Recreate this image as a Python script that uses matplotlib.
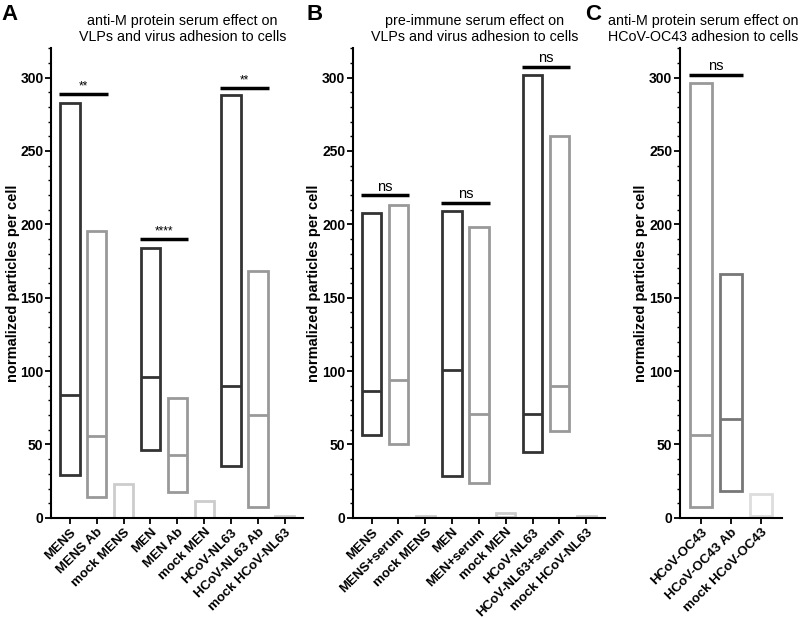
import numpy as np
import matplotlib
matplotlib.use("Agg")
import matplotlib.pyplot as plt
from matplotlib.ticker import MultipleLocator

plt.rcParams['font.family'] = ['Liberation Sans', 'DejaVu Sans']

DARK = "#333333"
GRAY = "#999999"
LIGHT = "#cccccc"

# Panel A
cats_a = ["MENS", "MENS Ab", "mock MENS", "MEN", "MEN Ab", "mock MEN",
          "HCoV-NL63", "HCoV-NL63 Ab", "mock HCoV-NL63"]
min_a = [29, 14.5, 0, 46, 17.5, 0, 35.6, 7.7, 0]
med_a = [84, 55.5, 0, 96, 43, 0, 90, 70, 0]
max_a = [283, 195.5, 23.3, 184, 82, 11.6, 288, 168, 1]
col_a = [DARK, GRAY, LIGHT] * 3
sig_a = [(0, 1, 289, "**"), (3, 4, 190, "****"), (6, 7, 293, "**")]

# Panel B
cats_b = ["MENS", "MENS+serum", "mock MENS", "MEN", "MEN+serum", "mock MEN",
          "HCoV-NL63", "HCoV-NL63+serum", "mock HCoV-NL63"]
min_b = [56.2, 50.1, 0, 28.6, 24, 0.6, 45, 59.4, 0]
med_b = [86.6, 93.7, 0, 100.5, 70.7, 0.6, 70.7, 89.6, 0]
max_b = [208, 213.4, 1, 209, 198.4, 3.2, 302, 260, 1]
col_b = [DARK, GRAY, LIGHT] * 3
sig_b = [(0, 1, 219.7, "ns"), (3, 4, 214.5, "ns"), (6, 7, 307.5, "ns")]

# Panel C
cats_c = ["HCoV-OC43", "HCoV-OC43 Ab", "mock HCoV-OC43"]
min_c = [7.5, 18.2, 1.5]
med_c = [56.3, 67.3, 1.5]
max_c = [296, 166.5, 16]
col_c = [GRAY, "#777777", "#dddddd"]
sig_c = [(0, 1, 302, "ns")]


def floating_bars(ax, cats, mins, meds, maxs, colors, sigs, width=0.72):
    x = np.arange(len(cats))
    for xi, lo, md, hi, c in zip(x, mins, meds, maxs, colors):
        ax.bar(xi, hi - lo, bottom=lo, width=width, fill=False,
               edgecolor=c, linewidth=2)
        ax.hlines(md, xi - width / 2, xi + width / 2, color=c, linewidth=2)
    # significance lines
    for i, j, y, txt in sigs:
        ax.hlines(y, i - 0.4, j + 0.4, color="black", linewidth=2.5)
        fs = 10.5 if txt == "ns" else 8.5
        ax.text((i + j) / 2, y + 1.2, txt, ha="center", va="bottom", fontsize=fs)
    ax.set_xticks(x)
    ax.set_xticklabels(cats, rotation=45, ha="right", rotation_mode="anchor",
                       fontweight="bold", fontsize=9.5)
    ax.set_xlim(-0.7, len(cats) - 1 + 0.69)
    ax.set_ylim(0, 320)
    ax.yaxis.set_major_locator(MultipleLocator(50))
    ax.yaxis.set_minor_locator(MultipleLocator(10))
    for lab in ax.get_yticklabels():
        lab.set_fontweight("bold")
    ax.tick_params(axis="y", labelsize=10, width=1.3, length=4, pad=1.5)
    ax.tick_params(axis="y", which="minor", width=1, length=2.5)
    ax.tick_params(axis="x", width=1.3, length=4, pad=2)
    ax.spines["top"].set_visible(False)
    ax.spines["right"].set_visible(False)
    ax.spines["left"].set_linewidth(1.5)
    ax.spines["bottom"].set_linewidth(1.5)
    ax.set_ylabel("normalized particles per cell", fontweight="bold",
                  fontsize=10.5, labelpad=0.5)


fig = plt.figure(figsize=(8, 6.18), dpi=100)

ax_a = fig.add_axes([0.064, 0.162, 0.315, 0.760])
floating_bars(ax_a, cats_a, min_a, med_a, max_a, col_a, sig_a)
ax_b = fig.add_axes([0.441, 0.162, 0.315, 0.760])
floating_bars(ax_b, cats_b, min_b, med_b, max_b, col_b, sig_b)
ax_c = fig.add_axes([0.850, 0.162, 0.127, 0.760])
floating_bars(ax_c, cats_c, min_c, med_c, max_c, col_c, sig_c)

title_kw = dict(ha="center", va="center", fontsize=10.3, linespacing=1.2)
fig.text(0.228, 0.953, "anti-M protein serum effect on\nVLPs and virus adhesion to cells", **title_kw)
fig.text(0.593, 0.953, "pre-immune serum effect on\nVLPs and virus adhesion to cells", **title_kw)
fig.text(0.879, 0.953, "anti-M protein serum effect on\nHCoV-OC43 adhesion to cells", **title_kw)

fig.text(0.002, 0.976, "A", fontsize=16, fontweight="bold", va="center")
fig.text(0.383, 0.976, "B", fontsize=16, fontweight="bold", va="center")
fig.text(0.731, 0.976, "C", fontsize=16, fontweight="bold", va="center")

fig.savefig("out.png", dpi=100, facecolor="white")
